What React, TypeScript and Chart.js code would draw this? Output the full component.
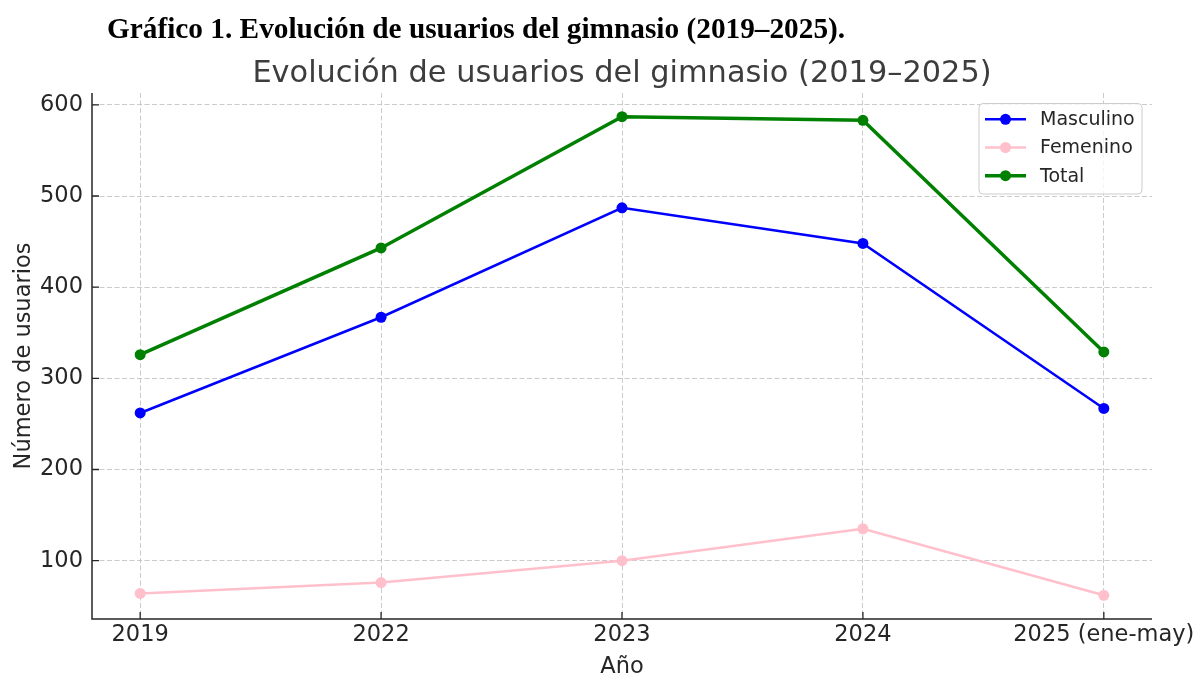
import React, { useEffect, useRef } from "react";
import { Chart, registerables } from "chart.js";

Chart.register(...registerables);

const categories = ["2019", "2022", "2023", "2024", "2025 (ene-may)"];
const masculino = [262, 367, 487, 448, 267];
const femenino = [64, 76, 100, 135, 62];
const total = [326, 443, 587, 583, 329];
const yTicks = [100, 200, 300, 400, 500, 600];

const heading = "Gráfico 1. Evolución de usuarios del gimnasio (2019–2025).";
const chartTitle = "Evolución de usuarios del gimnasio (2019–2025)";
const xTitle = "Año";
const yTitle = "Número de usuarios";

const FONT = "'DejaVu Sans', sans-serif";
const TEXT = "#262626";

const seriesDefs = [
  { label: "Masculino", data: masculino, color: "#0000ff", width: 2.5 },
  { label: "Femenino", data: femenino, color: "#ffc0cb", width: 2.5 },
  { label: "Total", data: total, color: "#008000", width: 3.5 },
];

const overlayPlugin = {
  id: "overlay",
  afterDraw(chart: any) {
    const ctx = chart.ctx as CanvasRenderingContext2D;
    const { left, right, top, bottom } = chart.chartArea;
    const xs = chart.scales.x;
    const ys = chart.scales.y;
    ctx.save();
    // spines
    ctx.strokeStyle = TEXT;
    ctx.lineWidth = 1.5;
    ctx.setLineDash([]);
    ctx.beginPath();
    ctx.moveTo(left, top);
    ctx.lineTo(left, bottom);
    ctx.lineTo(right, bottom);
    ctx.stroke();
    // inward ticks
    ctx.lineWidth = 1.3;
    ctx.beginPath();
    xs.ticks.forEach((t: any) => {
      const px = xs.getPixelForValue(t.value);
      ctx.moveTo(px, bottom);
      ctx.lineTo(px, bottom - 7);
    });
    ys.ticks.forEach((t: any) => {
      const py = ys.getPixelForValue(t.value);
      ctx.moveTo(left, py);
      ctx.lineTo(left + 7, py);
    });
    ctx.stroke();

    // heading
    ctx.fillStyle = "#000";
    ctx.font = "bold 29.3px 'Liberation Serif', 'Times New Roman', serif";
    ctx.textAlign = "left";
    ctx.textBaseline = "alphabetic";
    ctx.fillText(heading, 107, 37.5);

    // chart title
    ctx.fillStyle = "#3d3d3d";
    ctx.font = `30.4px ${FONT}`;
    ctx.textAlign = "center";
    ctx.fillText(chartTitle, (left + right) / 2, 82);

    // axis titles
    ctx.fillStyle = TEXT;
    ctx.font = `22.5px ${FONT}`;
    ctx.fillText(xTitle, (left + right) / 2, 673);
    ctx.save();
    ctx.translate(30, (top + bottom) / 2);
    ctx.rotate(-Math.PI / 2);
    ctx.fillText(yTitle, 0, 0);
    ctx.restore();

    // legend
    const bx = 979, by = 103.5, bw = 163, bh = 90.5, r = 4;
    ctx.beginPath();
    ctx.moveTo(bx + r, by);
    ctx.lineTo(bx + bw - r, by);
    ctx.quadraticCurveTo(bx + bw, by, bx + bw, by + r);
    ctx.lineTo(bx + bw, by + bh - r);
    ctx.quadraticCurveTo(bx + bw, by + bh, bx + bw - r, by + bh);
    ctx.lineTo(bx + r, by + bh);
    ctx.quadraticCurveTo(bx, by + bh, bx, by + bh - r);
    ctx.lineTo(bx, by + r);
    ctx.quadraticCurveTo(bx, by, bx + r, by);
    ctx.closePath();
    ctx.fillStyle = "rgba(255,255,255,0.8)";
    ctx.fill();
    ctx.strokeStyle = "#cccccc";
    ctx.lineWidth = 1;
    ctx.stroke();

    ctx.font = `19px ${FONT}`;
    ctx.textAlign = "left";
    ctx.textBaseline = "middle";
    seriesDefs.forEach((s, i) => {
      const y = 119.3 + i * 28.2;
      ctx.strokeStyle = s.color;
      ctx.lineWidth = s.width;
      ctx.beginPath();
      ctx.moveTo(985, y);
      ctx.lineTo(1026, y);
      ctx.stroke();
      ctx.fillStyle = s.color;
      ctx.beginPath();
      ctx.arc(1005.5, y, 5.5, 0, Math.PI * 2);
      ctx.fill();
      ctx.fillStyle = TEXT;
      ctx.fillText(s.label, 1040, y + 1);
    });
    ctx.restore();
  },
};

export default function App() {
  const ref = useRef<HTMLCanvasElement>(null);

  useEffect(() => {
    document.body.style.margin = "0";
    const canvas = ref.current!;
    const chart = new Chart(canvas, {
      type: "line",
      data: {
        datasets: seriesDefs.map((s) => ({
          label: s.label,
          data: s.data.map((v, i) => ({ x: i, y: v })),
          borderColor: s.color,
          backgroundColor: s.color,
          borderWidth: s.width,
          pointRadius: 5.5,
          pointHoverRadius: 5.5,
          pointBorderWidth: 0,
          pointBackgroundColor: s.color,
          tension: 0,
          fill: false,
        })),
      },
      options: {
        responsive: false,
        animation: false,
        devicePixelRatio: 1,
        layout: { padding: { top: 93, right: 44, left: 0, bottom: 0 } },
        plugins: {
          legend: { display: false },
          title: { display: false },
          tooltip: { enabled: false },
        },
        scales: {
          x: {
            type: "linear",
            min: -0.2,
            max: 4.2,
            afterBuildTicks: (scale: any) => {
              scale.ticks = categories.map((_, i) => ({ value: i }));
            },
            afterFit: (scale: any) => {
              scale.height = 56;
              scale.paddingLeft = 0;
              scale.paddingRight = 0;
            },
            ticks: {
              callback: (v: any) => categories[v] ?? "",
              font: { family: FONT, size: 22.5 },
              color: TEXT,
              padding: 3,
              maxRotation: 0,
              autoSkip: false,
            },
            grid: {
              color: "rgba(190,190,190,0.8)",
              lineWidth: 1,
              drawTicks: false,
            },
            border: { display: false, dash: [5, 2.5] },
          },
          y: {
            type: "linear",
            min: 36,
            max: 613,
            afterBuildTicks: (scale: any) => {
              scale.ticks = yTicks.map((v) => ({ value: v }));
            },
            afterFit: (scale: any) => {
              scale.width = 92;
              scale.paddingTop = 0;
              scale.paddingBottom = 0;
            },
            ticks: {
              font: { family: FONT, size: 22.5 },
              color: TEXT,
              padding: 9,
            },
            grid: {
              color: "rgba(190,190,190,0.8)",
              lineWidth: 1,
              drawTicks: false,
            },
            border: { display: false, dash: [5, 2.5] },
          },
        },
      },
      plugins: [overlayPlugin],
    });
    return () => chart.destroy();
  }, []);

  return (
    <div style={{ position: "absolute", left: 0, top: 0, width: 1196, height: 675, background: "#fff" }}>
      <canvas ref={ref} width={1196} height={675} />
    </div>
  );
}
